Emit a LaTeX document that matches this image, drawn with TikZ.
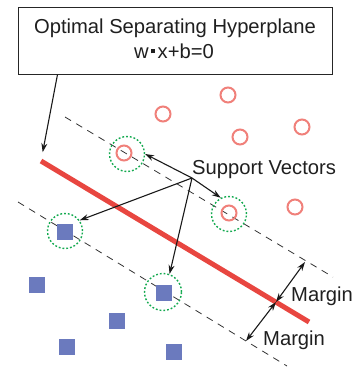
\documentclass[tikz,border=0pt]{standalone}
\usepackage{fontspec}
\setmainfont{Liberation Sans}
\usetikzlibrary{arrows.meta,calc}
\definecolor{redline}{RGB}{232,70,64}
\definecolor{poscol}{RGB}{240,128,122}
\definecolor{negcol}{RGB}{107,122,190}
\definecolor{ringcol}{RGB}{20,170,80}
\newcommand{\sqdot}{\hspace{0.12em}\rule[0.24em]{0.2em}{0.2em}\hspace{0.12em}}
\tikzset{
  poscirc/.style={circle,draw=poscol,line width=2pt,minimum size=15pt,inner sep=0pt},
  negsq/.style={rectangle,fill=negcol,minimum size=16.5pt,inner sep=0pt},
  svring/.style={circle,draw=ringcol,line width=1.4pt,dash pattern=on 1.8pt off 2pt,minimum size=35pt,inner sep=0pt},
  margline/.style={draw=black!80,line width=0.8pt,dash pattern=on 7pt off 6pt},
  arr/.style={draw=black!90,line width=1.1pt,-{Stealth[length=9pt,width=6pt]}},
  darr/.style={draw=black!90,line width=1.1pt,{Stealth[length=9pt,width=6pt]}-{Stealth[length=9pt,width=6pt]}},
  lbl/.style={font=\fontsize{20.2pt}{24pt}\selectfont,text=black!88,inner sep=0pt}
}
\begin{document}
\begin{tikzpicture}[x=1pt,y=-1pt]
\useasboundingbox (0,0) rectangle (352,367);
% margin lines
\coordinate (d1a) at (65,117); \coordinate (d1b) at (333,277);
\coordinate (d2a) at (18,202); \coordinate (d2b) at (287,366);
\draw[margline] (d1a) -- (d1b);
\draw[margline] (d2a) -- (d2b);
% hyperplane
\coordinate (r1) at (41,161); \coordinate (r2) at (309,322);
\draw[redline,line width=5pt] (r1) -- (r2);
% positive class
\node[poscirc] (p1) at (163,114) {};
\node[poscirc] (p2) at (228,95) {};
\node[poscirc] (p3) at (240,137) {};
\node[poscirc] (p4) at (302,127) {};
\node[poscirc] (p5) at (295,207) {};
\node[poscirc] (p6) at (124,153) {};
\node[poscirc] (p7) at (229,213) {};
% negative class
\node[negsq] (n1) at (65,232) {};
\node[negsq] (n2) at (164,293) {};
\node[negsq] (n3) at (37,285) {};
\node[negsq] (n4) at (117,321) {};
\node[negsq] (n5) at (67,347) {};
\node[negsq] (n6) at (174,352) {};
% support vector rings
\node[svring] (s1) at (127,154) {};
\node[svring] (s2) at (229,214) {};
\node[svring] (s3) at (65,231) {};
\node[svring,minimum size=37pt] (s4) at (163,292) {};
% title box
\node[draw=black!85,line width=1pt,minimum width=314pt,minimum height=67pt,inner sep=0pt] (title) at (175,40.5) {};
\node[lbl,anchor=base] (t1) at (175,33.3) {Optimal Separating Hyperplane};
\node[lbl,anchor=base] (t2) at (174,58.3) {w\sqdot x+b=0};
\draw[arr,shorten >=9pt] ($(title.south west)+(40,0)$) -- (r1);
% support vectors label
\node[lbl,anchor=base west] (sv) at (192,174) {Support Vectors};
\coordinate (hub) at (192,178);
\draw[arr] (hub) -- (s1.east);
\draw[arr] (hub) -- (s2.117);
\draw[arr] (hub) -- (s3.36);
\draw[arr] (hub) -- (s4.70);
% margins
\coordinate (m0) at (276,302);
\coordinate (mu) at (305,262);
\coordinate (ml) at (246,341);
\draw[darr] (m0) -- (mu);
\draw[darr] (m0) -- (ml);
\node[lbl,anchor=base west] (mg1) at (291,301) {Margin};
\node[lbl,anchor=base west] (mg2) at (263,345) {Margin};
\end{tikzpicture}
\end{document}
